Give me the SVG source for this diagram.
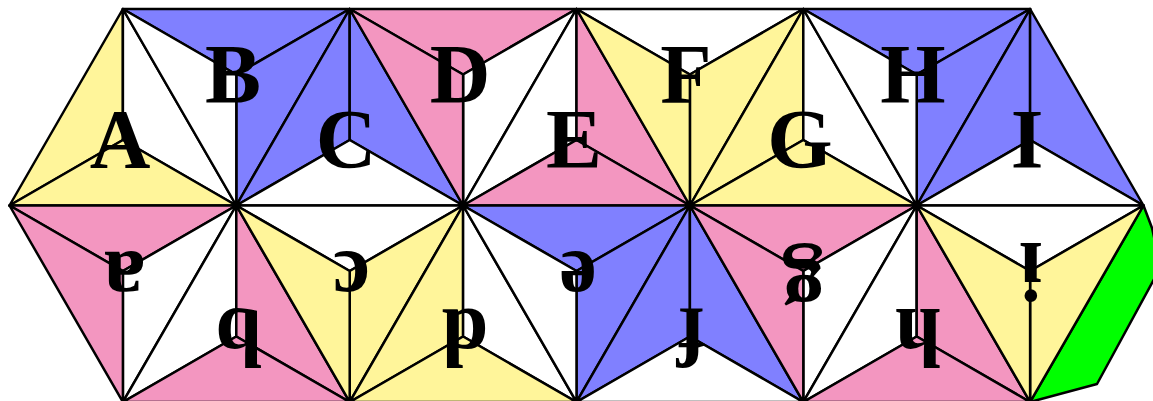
<svg xmlns="http://www.w3.org/2000/svg" width="1153" height="401" viewBox="0 0 1153 401">
<style>
polygon{stroke:#000;stroke-width:2.5;stroke-linejoin:round}
.y{fill:#FFF59A}.p{fill:#F396C0}.b{fill:#8080FF}.w{fill:#FFFFFF}.g{fill:#00FF00}
text{font-family:"Liberation Serif","Times New Roman",serif;font-weight:bold;font-size:84px;text-anchor:middle;fill:#000}
</style>
<rect width="1153" height="401" fill="#fff"/>
<g id="green"><polygon class="g" points="1030.1,402 1143.5,205.5 1152,228 1158,255 1158,272 1097,384"/></g>
<g id="A">
<polygon class="y" points="9.5,205.5 122.9,9 122.9,140"/>
<polygon class="w" points="122.9,9 236.3,205.5 122.9,140"/>
<polygon class="y" points="236.3,205.5 9.5,205.5 122.9,140"/>
<text x="120" y="168">A</text></g>
<g id="B">
<polygon class="b" points="122.9,9 349.7,9 236.3,74.5"/>
<polygon class="b" points="349.7,9 236.3,205.5 236.3,74.5"/>
<polygon class="w" points="236.3,205.5 122.9,9 236.3,74.5"/>
<text x="233" y="102.5">B</text></g>
<g id="C">
<polygon class="b" points="236.3,205.5 349.7,9 349.7,140"/>
<polygon class="b" points="349.7,9 463.1,205.5 349.7,140"/>
<polygon class="w" points="463.1,205.5 236.3,205.5 349.7,140"/>
<text x="346" y="168">C</text></g>
<g id="D">
<polygon class="p" points="349.7,9 576.5,9 463.1,74.5"/>
<polygon class="w" points="576.5,9 463.1,205.5 463.1,74.5"/>
<polygon class="p" points="463.1,205.5 349.7,9 463.1,74.5"/>
<text x="460" y="102.5">D</text></g>
<g id="E">
<polygon class="w" points="463.1,205.5 576.5,9 576.5,140"/>
<polygon class="p" points="576.5,9 689.9,205.5 576.5,140"/>
<polygon class="p" points="689.9,205.5 463.1,205.5 576.5,140"/>
<text x="574" y="168">E</text></g>
<g id="F">
<polygon class="w" points="576.5,9 803.3,9 689.9,74.5"/>
<polygon class="y" points="803.3,9 689.9,205.5 689.9,74.5"/>
<polygon class="y" points="689.9,205.5 576.5,9 689.9,74.5"/>
<text x="686" y="102.5">F</text></g>
<g id="G">
<polygon class="y" points="689.9,205.5 803.3,9 803.3,140"/>
<polygon class="w" points="803.3,9 916.7,205.5 803.3,140"/>
<polygon class="y" points="916.7,205.5 689.9,205.5 803.3,140"/>
<text x="800" y="168">G</text></g>
<g id="H">
<polygon class="b" points="803.3,9 1030.1,9 916.7,74.5"/>
<polygon class="b" points="1030.1,9 916.7,205.5 916.7,74.5"/>
<polygon class="w" points="916.7,205.5 803.3,9 916.7,74.5"/>
<text x="913" y="102.5">H</text></g>
<g id="I">
<polygon class="b" points="916.7,205.5 1030.1,9 1030.1,140"/>
<polygon class="b" points="1030.1,9 1143.5,205.5 1030.1,140"/>
<polygon class="w" points="1143.5,205.5 916.7,205.5 1030.1,140"/>
<text x="1027" y="168">I</text></g>
<g id="a">
<polygon class="p" points="9.5,205.5 236.3,205.5 122.9,271"/>
<polygon class="w" points="236.3,205.5 122.9,402 122.9,271"/>
<polygon class="p" points="122.9,402 9.5,205.5 122.9,271"/>
<text x="121" y="290" transform="rotate(180 122.9 271)">a</text></g>
<g id="b">
<polygon class="w" points="122.9,402 236.3,205.5 236.3,336.5"/>
<polygon class="p" points="236.3,205.5 349.7,402 236.3,336.5"/>
<polygon class="p" points="349.7,402 122.9,402 236.3,336.5"/>
<text x="234" y="364.5" transform="rotate(180 236.3 336.5)">b</text></g>
<g id="c">
<polygon class="w" points="236.3,205.5 463.1,205.5 349.7,271"/>
<polygon class="y" points="463.1,205.5 349.7,402 349.7,271"/>
<polygon class="y" points="349.7,402 236.3,205.5 349.7,271"/>
<text x="348" y="290" transform="rotate(180 349.7 271)">c</text></g>
<g id="d">
<polygon class="y" points="349.7,402 463.1,205.5 463.1,336.5"/>
<polygon class="w" points="463.1,205.5 576.5,402 463.1,336.5"/>
<polygon class="y" points="576.5,402 349.7,402 463.1,336.5"/>
<text x="461" y="364.5" transform="rotate(180 463.1 336.5)">d</text></g>
<g id="e">
<polygon class="b" points="463.1,205.5 689.9,205.5 576.5,271"/>
<polygon class="b" points="689.9,205.5 576.5,402 576.5,271"/>
<polygon class="w" points="576.5,402 463.1,205.5 576.5,271"/>
<text x="575" y="290" transform="rotate(180 576.5 271)">e</text></g>
<g id="f">
<polygon class="b" points="576.5,402 689.9,205.5 689.9,336.5"/>
<polygon class="b" points="689.9,205.5 803.3,402 689.9,336.5"/>
<polygon class="w" points="803.3,402 576.5,402 689.9,336.5"/>
<text x="689" y="365" transform="rotate(180 689.9 336.5)">f</text></g>
<g id="g">
<polygon class="p" points="689.9,205.5 916.7,205.5 803.3,271"/>
<polygon class="w" points="916.7,205.5 803.3,402 803.3,271"/>
<polygon class="p" points="803.3,402 689.9,205.5 803.3,271"/>
<text x="803.3" y="281" transform="rotate(180 803.3 271)">g</text></g>
<g id="h">
<polygon class="w" points="803.3,402 916.7,205.5 916.7,336.5"/>
<polygon class="p" points="916.7,205.5 1030.1,402 916.7,336.5"/>
<polygon class="p" points="1030.1,402 803.3,402 916.7,336.5"/>
<text x="915" y="364.5" transform="rotate(180 916.7 336.5)">h</text></g>
<g id="i">
<polygon class="w" points="916.7,205.5 1143.5,205.5 1030.1,271"/>
<polygon class="y" points="1143.5,205.5 1030.1,402 1030.1,271"/>
<polygon class="y" points="1030.1,402 916.7,205.5 1030.1,271"/>
<text x="1029" y="299.5" transform="rotate(180 1030.1 271)">i</text></g>
</svg>
